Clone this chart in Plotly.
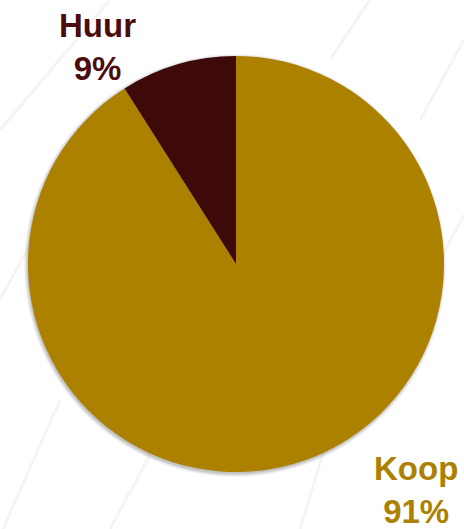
import plotly.graph_objects as go

# Housing tenure split
categories = ["Koop", "Huur"]
shares = [91, 9]
slice_colors = ["#AD8100", "#3D0909"]
label_colors = ["#AD8100", "#4A0C0C"]

W, H = 464, 529
cx, cy, r = 236, 264, 208  # pie centre and radius in pixels


def px_x(x):
    return x / W


def px_y(y):
    return 1 - y / H


fig = go.Figure(
    go.Pie(
        labels=categories,
        values=shares,
        sort=False,
        direction="clockwise",
        rotation=0,
        marker=dict(colors=slice_colors, line=dict(width=0)),
        textinfo="none",
        hoverinfo="label+percent",
        showlegend=False,
        domain=dict(x=[px_x(cx - r), px_x(cx + r)], y=[px_y(cy + r), px_y(cy - r)]),
    )
)

shapes = []
# faint diagonal strokes of the backdrop
for (x0, y0, x1, y1) in [
    (0, 300, 70, 170), (3, 529, 60, 400), (110, 529, 150, 455),
    (0, 130, 110, 0), (300, 529, 330, 430), (330, 60, 370, 0),
    (420, 120, 464, 40), (440, 260, 464, 215),
]:
    shapes.append(dict(type="line", xref="paper", yref="paper",
                       x0=px_x(x0), y0=px_y(y0), x1=px_x(x1), y1=px_y(y1),
                       line=dict(color="rgba(225,225,210,0.35)", width=3),
                       layer="below"))
# soft drop shadow under the pie
for off, alpha in [(5, 0.05), (4, 0.07), (3, 0.09), (2, 0.12)]:
    shapes.append(dict(type="circle", xref="paper", yref="paper",
                       x0=px_x(cx - r - off + 1), x1=px_x(cx + r + off - 3),
                       y0=px_y(cy + r + off), y1=px_y(cy - r - off + 3),
                       line=dict(width=0),
                       fillcolor=f"rgba(60,60,60,{alpha})", layer="below"))

# category labels with their shares
label_pos = {"Huur": (97, 47), "Koop": (416, 490)}
annotations = []
for cat, val, col in zip(categories, shares, label_colors):
    x, y = label_pos[cat]
    annotations.append(dict(
        x=px_x(x), y=px_y(y), xref="paper", yref="paper",
        text=f"<b>{cat}<br>{val}%</b>", showarrow=False,
        xanchor="center", yanchor="middle", align="center",
        font=dict(family="Liberation Sans, Arial, sans-serif", size=33, color=col),
    ))

fig.update_layout(
    width=W, height=H,
    margin=dict(l=0, r=0, t=0, b=0),
    paper_bgcolor="#FFFFFF",
    plot_bgcolor="#FFFFFF",
    shapes=shapes,
    annotations=annotations,
)

fig.write_html("out.html")
